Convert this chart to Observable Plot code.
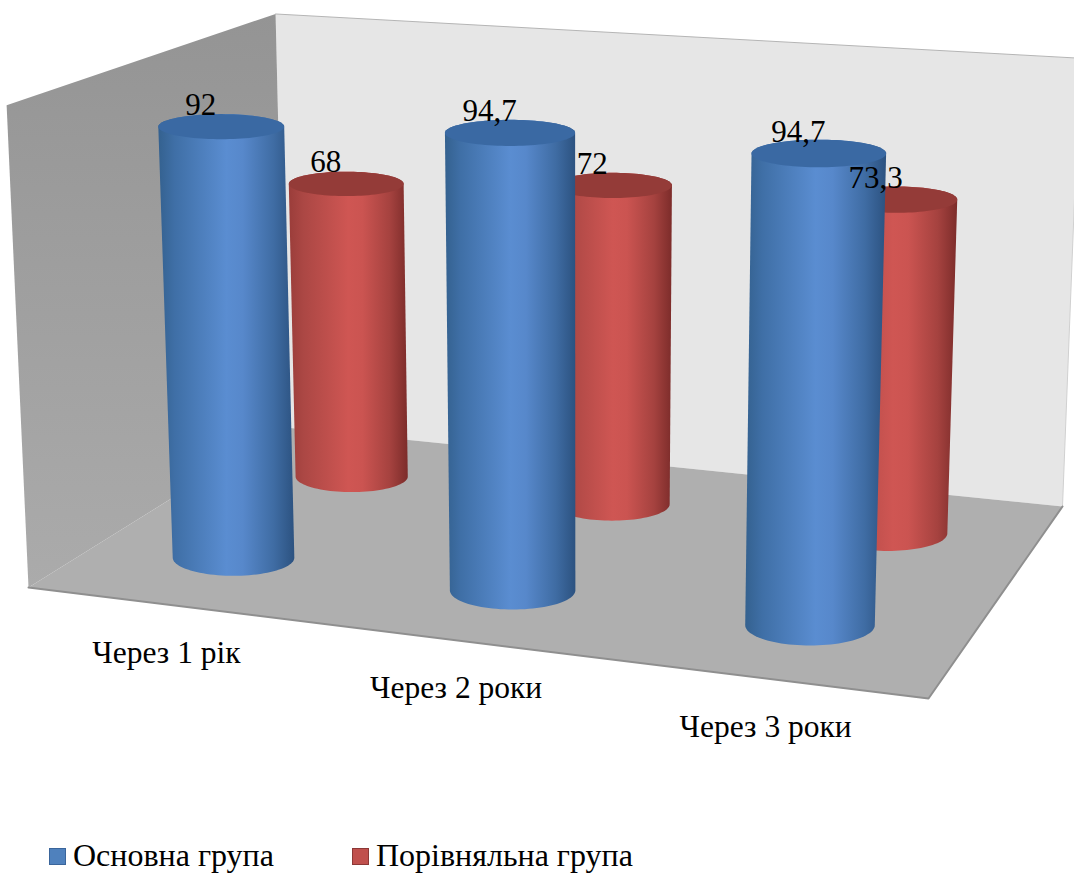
<!DOCTYPE html>
<html lang="uk">
<head>
<meta charset="utf-8">
<script src="https://cdn.jsdelivr.net/npm/d3@7"></script>
<script src="https://cdn.jsdelivr.net/npm/@observablehq/plot@0.6"></script>
<style>
  html, body { margin: 0; background: #fff; overflow: hidden; }
  #chart svg { display: block; }
  .legend { position: relative; height: 50px; font: 32px "Liberation Serif", serif; color: #000; }
  .legend i { position: absolute; top: 18px; width: 15px; height: 15px; border: 1.5px solid; }
  .legend span { position: absolute; top: 8px; line-height: 34px; white-space: nowrap; }
</style>
</head>
<body>
<div id="chart"></div>
<div class="legend" id="legend"></div>
<script>
// Survey results by follow-up time, as percentages.
const periods = ["Через 1 рік", "Через 2 роки", "Через 3 роки"];
const seriesNames = ["Основна група", "Порівняльна група"];
const mainGroup = [92, 94.7, 94.7];
const comparisonGroup = [68, 72, 73.3];
const axisMax = 100;

const width = 1074;
const height = 830;

// Screen anchors of the room: floor corners and the top of the walls.
const floorCorners = [[28, 587], [928, 698], [1062, 506], [285, 427]];
const wallTops = [
  {u: 0, v: 0, at: [8, 104]},
  {u: 0, v: 1, at: [273, 12]},
  {u: 1, v: 1, at: [1080, 60]}
];

// Floor plane homography from the unit square (u across, v into the depth).
function floorMap() {
  const [[x0, y0], [x1, y1], [x2, y2], [x3, y3]] = floorCorners;
  const dx1 = x1 - x2, dx2 = x3 - x2, sx = x0 - x1 + x2 - x3;
  const dy1 = y1 - y2, dy2 = y3 - y2, sy = y0 - y1 + y2 - y3;
  const det = dx1 * dy2 - dx2 * dy1;
  const g = (sx * dy2 - dx2 * sy) / det;
  const k = (dx1 * sy - sx * dy1) / det;
  return (u, v) => [
    (x1 - x0 + g * x1) * u + (x3 - x0 + k * x3) * v + x0,
    (y1 - y0 + g * y1) * u + (y3 - y0 + k * y3) * v + y0,
    g * u + k * v + 1
  ];
}
const floorH = floorMap();

// Least-squares fit of the vertical column of the camera matrix.
function fitVertical() {
  const rows = [], rhs = [];
  for (const {u, v, at: [tx, ty]} of wallTops) {
    const [X, Y, w] = floorH(u, v);
    rows.push([1, 0, -tx]); rhs.push(tx * w - X);
    rows.push([0, 1, -ty]); rhs.push(ty * w - Y);
  }
  const A = [0, 1, 2].map(i => [0, 1, 2].map(j => d3.sum(rows, r => r[i] * r[j])));
  const b = [0, 1, 2].map(i => d3.sum(rows, (r, n) => r[i] * rhs[n]));
  for (let i = 0; i < 3; ++i) {
    for (let j = 0; j < 3; ++j) {
      if (j === i) continue;
      const f = A[j][i] / A[i][i];
      for (let c = 0; c < 3; ++c) A[j][c] -= f * A[i][c];
      b[j] -= f * b[i];
    }
  }
  return b.map((d, i) => d / A[i][i]);
}
const vertical = fitVertical();

// World position to screen: u, v in 0..1, h in value units.
function project(u, v, h) {
  const [X, Y, w] = floorH(u, v);
  const t = h / axisMax;
  const W = w + t * vertical[2];
  return [(X + t * vertical[0]) / W, (Y + t * vertical[1]) / W, W];
}

// Cylinder cross-section: apparent radius shrinks with depth, ellipses open up lower on screen.
const radius = 62.5;
const tilt = y => 0.2 + (y - 130) * 0.1 / 430;
const ellipse = ([x, y, W]) => {
  const rx = radius / W;
  return {x, y, rx, ry: rx * tilt(y)};
};

const depths = [0.25, 0.745];
const groups = [mainGroup, comparisonGroup];
const thetas = d3.range(0, 49).map(i => Math.PI * i / 48);

const cylinders = groups.flatMap((values, s) => values.map((value, i) => {
  const u = (i + 0.5) / periods.length;
  const v = depths[s];
  const topCentre = project(u, v, value);
  return {
    key: `${s}-${i}`, s, i, value, topCentre,
    top: ellipse(topCentre),
    base: ellipse(project(u, v, 0))
  };
}));

// Paired outlines: each row carries the two edges of an area.
const bodyRows = c => thetas.map(t => ({
  key: c.key,
  x1: c.top.x - c.top.rx * Math.cos(t), y1: c.top.y - c.top.ry * Math.sin(t),
  x2: c.base.x - c.base.rx * Math.cos(t), y2: c.base.y + c.base.ry * Math.sin(t)
}));
const capRows = c => thetas.map(t => ({
  key: c.key,
  x1: c.top.x - c.top.rx * Math.cos(t), y1: c.top.y - c.top.ry * Math.sin(t),
  x2: c.top.x - c.top.rx * Math.cos(t), y2: c.top.y + c.top.ry * Math.sin(t)
}));

const panel = corners => corners.map(([u, v, h]) => {
  const [x, y] = project(u, v, h);
  return {x, y};
});
const backWall = panel([[0, 1, 0], [1, 1, 0], [1, 1, axisMax], [0, 1, axisMax]]);
const sideWall = panel([[0, 0, 0], [0, 1, 0], [0, 1, axisMax], [0, 0, axisMax]]);
const floorPanel = panel([[0, 0, 0], [1, 0, 0], [1, 1, 0], [0, 1, 0]]);
const floorFront = panel([[0, 0, 0], [1, 0, 0], [1, 1, 0]]);
const backTop = panel([[0, 1, axisMax], [1, 1, axisMax]]);
const backRight = panel([[1, 1, axisMax], [1, 1, 0]]);

const gradient = (id, stops, vertical = false) => {
  const g = d3.create("svg:linearGradient").attr("id", id);
  if (vertical) g.attr("x2", 0).attr("y2", 1);
  for (const [offset, color] of stops) g.append("stop").attr("offset", offset).attr("stop-color", color);
  return g.node();
};
const defs = () => {
  const root = d3.create("svg:defs");
  root.append(() => gradient("cyl0", [[0, "#34618f"], [0.12, "#3f6fa6"], [0.5, "#5a8dd1"], [0.62, "#5788cb"], [0.85, "#3f6ca3"], [1, "#2c5280"]]));
  root.append(() => gradient("cyl1", [[0, "#9a3d3a"], [0.12, "#ab4744"], [0.5, "#cf5653"], [0.62, "#cb5451"], [0.85, "#a5423f"], [1, "#7c2c2a"]]));
  root.append(() => gradient("wallSide", [[0, "#949494"], [1, "#ababab"]], true));
  return root.node();
};

const capFill = ["#3a69a3", "#943b38"];
const areaOptions = {x1: "x1", y1: "y1", x2: "x2", y2: "y2", z: "key", curve: "linear"};
const drawOrder = d3.sort(cylinders, c => -c.s, c => c.i);
const cylinderMarks = drawOrder.flatMap(c => [
  Plot.area(bodyRows(c), {...areaOptions, fill: `url(#cyl${c.s})`}),
  Plot.area(capRows(c), {...areaOptions, fill: capFill[c.s]})
]);

const plot = Plot.plot({
  width, height,
  margin: 0,
  x: {domain: [0, width], range: [0, width], axis: null},
  y: {domain: [0, height], range: [0, height], axis: null},
  marks: [
    defs,
    Plot.line(backWall, {x: "x", y: "y", fill: "#e6e6e6", stroke: "none"}),
    Plot.line(backTop, {x: "x", y: "y", stroke: "#b5b5b5", strokeWidth: 1}),
    Plot.line(backRight, {x: "x", y: "y", stroke: "#d0d0d0", strokeWidth: 1}),
    Plot.line(sideWall, {x: "x", y: "y", fill: "url(#wallSide)", stroke: "none"}),
    Plot.line(floorPanel, {x: "x", y: "y", fill: "#afafaf", stroke: "none"}),
    Plot.line(floorFront, {x: "x", y: "y", stroke: "#8f8f8f", strokeWidth: 2}),
    ...cylinderMarks,
    // Value labels above each cylinder
    Plot.text(cylinders, {
      x: c => c.topCentre[0], y: c => c.topCentre[1],
      text: c => String(c.value).replace(".", ","),
      dx: -21, dy: -22,
      fontFamily: "Liberation Serif", fontSize: 31, fill: "#000"
    }),
    // Period labels below the front edge of the floor
    Plot.text(periods, {
      x: (d, i) => project((i + 0.5) / periods.length, 0, 0)[0],
      y: (d, i) => project((i + 0.5) / periods.length, 0, 0)[1],
      text: d => d,
      dx: 0, dy: 48,
      fontFamily: "Liberation Serif", fontSize: 31.5, fill: "#000"
    })
  ]
});
document.getElementById("chart").append(plot);

// Legend under the chart
const legendSlots = [49, 352];
const swatches = [["#4f81bd", "#3a659b"], ["#c0504d", "#8c3836"]];
const legend = d3.select("#legend");
seriesNames.forEach((name, i) => {
  legend.append("i").style("left", legendSlots[i] + "px")
    .style("background", swatches[i][0]).style("border-color", swatches[i][1]);
  legend.append("span").style("left", legendSlots[i] + 24 + "px").text(name);
});
</script>
</body>
</html>
